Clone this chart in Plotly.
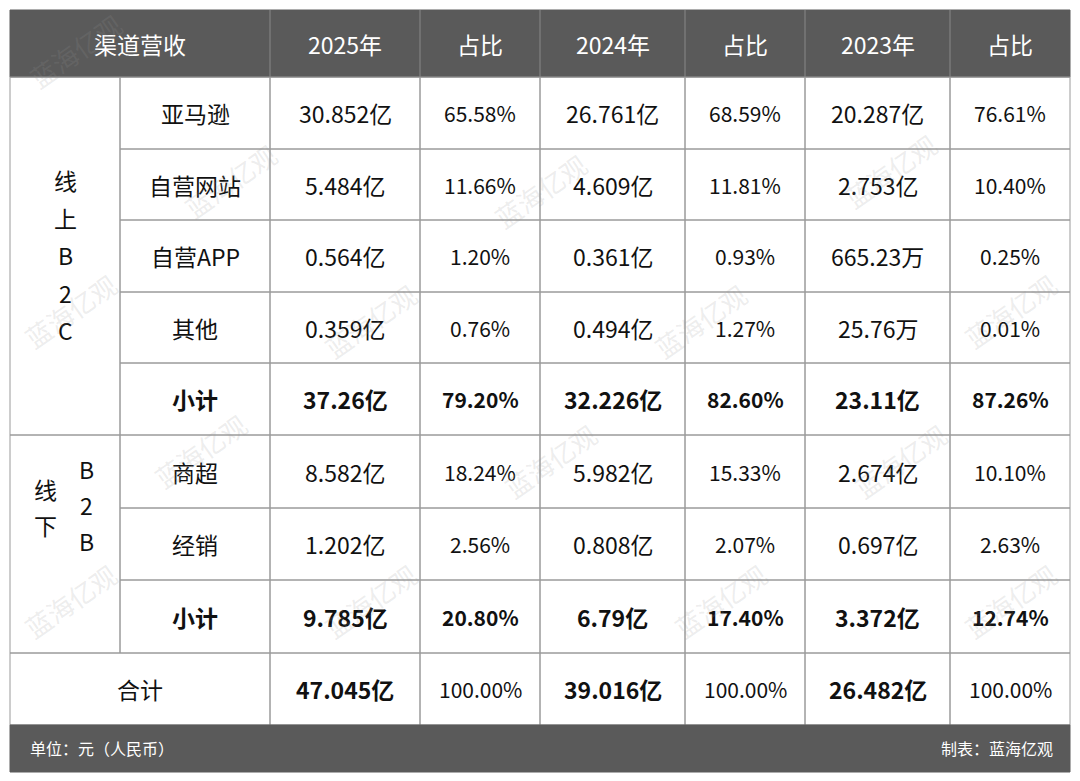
import plotly.graph_objects as go

W, H = 1080, 781
PAGE_OFFSET = 8  # browser body margin

headers = ["渠道营收", "2025年", "占比", "2024年", "占比", "2023年", "占比"]
channels = ["亚马逊", "自营网站", "自营APP", "其他", "小计", "商超", "经销", "小计"]
rev_2025 = ["30.852亿", "5.484亿", "0.564亿", "0.359亿", "37.26亿", "8.582亿", "1.202亿", "9.785亿"]
pct_2025 = ["65.58%", "11.66%", "1.20%", "0.76%", "79.20%", "18.24%", "2.56%", "20.80%"]
rev_2024 = ["26.761亿", "4.609亿", "0.361亿", "0.494亿", "32.226亿", "5.982亿", "0.808亿", "6.79亿"]
pct_2024 = ["68.59%", "11.81%", "0.93%", "1.27%", "82.60%", "15.33%", "2.07%", "17.40%"]
rev_2023 = ["20.287亿", "2.753亿", "665.23万", "25.76万", "23.11亿", "2.674亿", "0.697亿", "3.372亿"]
pct_2023 = ["76.61%", "10.40%", "0.25%", "0.01%", "87.26%", "10.10%", "2.63%", "12.74%"]
total_row = ["合计", "47.045亿", "100.00%", "39.016亿", "100.00%", "26.482亿", "100.00%"]
bold_rows = {4, 7}

col_edges = [10, 120, 270, 420, 540, 685, 805, 950, 1070]
row_edges = [10, 77, 149, 220, 292, 363, 435, 508, 580, 653, 725]
FOOT_BOTTOM = 772
DARK = "#5a5a5a"
LINE = "#9a9a9a"
FONT = "Noto Sans CJK SC"

fig = go.Figure()
shapes, ann = [], []


def rect(x0, y0, x1, y1, fill=None, line=LINE, w=1):
    shapes.append(dict(type="rect", xref="x", yref="y", x0=x0, y0=y0, x1=x1, y1=y1,
                       fillcolor=fill or "rgba(0,0,0,0)", line=dict(color=line, width=w),
                       layer="below"))


def text(x, y, s, size=23, color="#111", bold=False, **kw):
    ann.append(dict(x=x, y=y, xref="x", yref="y", text=f"<b>{s}</b>" if bold else s,
                    showarrow=False, font=dict(family=FONT, size=size, color=color), **kw))


# header
rect(col_edges[0], row_edges[0], col_edges[-1], row_edges[1], fill=DARK, line=DARK)
hx = [(col_edges[0] + col_edges[2]) / 2] + [(col_edges[i] + col_edges[i + 1]) / 2 for i in range(2, 8)]
for x, h in zip(hx, headers):
    text(x, (row_edges[0] + row_edges[1]) / 2, h, color="white")
for i in range(2, 8):
    shapes.append(dict(type="line", xref="x", yref="y", x0=col_edges[i], x1=col_edges[i],
                       y0=row_edges[0], y1=row_edges[1], line=dict(color="#888", width=1)))

# body cells
cols = [channels, rev_2025, pct_2025, rev_2024, pct_2024, rev_2023, pct_2023]
for r in range(8):
    y0, y1 = row_edges[r + 1], row_edges[r + 2]
    for c in range(7):
        x0, x1 = col_edges[c + 1], col_edges[c + 2]
        rect(x0, y0, x1, y1)
        size = 21 if c in (2, 4, 6) else 23
        text((x0 + x1) / 2, (y0 + y1) / 2, cols[c][r], size=size, bold=r in bold_rows)

# group label cells
rect(col_edges[0], row_edges[1], col_edges[1], row_edges[6])
rect(col_edges[0], row_edges[6], col_edges[1], row_edges[9])
for k, ch in enumerate("线上B2C"):
    text(65, 180 + k * 37.5, ch)
for k, ch in enumerate("线下"):
    text(45, 489 + k * 36, ch)
for k, ch in enumerate("B2B"):
    text(86, 469 + k * 36, ch)

# total row
y0, y1 = row_edges[9], row_edges[10]
rect(col_edges[0], y0, col_edges[2], y1)
text((col_edges[0] + col_edges[2]) / 2, (y0 + y1) / 2, total_row[0])
for c in range(1, 7):
    x0, x1 = col_edges[c + 1], col_edges[c + 2]
    rect(x0, y0, x1, y1)
    text((x0 + x1) / 2, (y0 + y1) / 2, total_row[c], size=21 if c % 2 == 0 else 23, bold=c % 2 == 1)

# footer
rect(col_edges[0], row_edges[10], col_edges[-1], FOOT_BOTTOM, fill=DARK, line=DARK)
text(28, 748, "单位：元（人民币）", size=16, color="white", xanchor="left")
text(1055, 748, "制表：蓝海亿观", size=16, color="white", xanchor="right")

# faint watermarks
for wx, wy in [(75, 50), (230, 180), (540, 190), (890, 170), (70, 310), (370, 320), (700, 320),
               (1010, 310), (200, 450), (550, 460), (900, 460), (70, 600), (370, 600), (720, 600),
               (1010, 600)]:
    text(wx, wy, "蓝海亿观", size=26, color="rgba(150,150,150,0.18)", textangle=-35)

fig.add_trace(go.Scatter(x=[0, W], y=[0, H], mode="markers", marker=dict(opacity=0),
                         hoverinfo="skip", showlegend=False))
fig.update_layout(
    width=W, height=H, margin=dict(l=0, r=0, t=0, b=0),
    paper_bgcolor="white", plot_bgcolor="white",
    xaxis=dict(range=[PAGE_OFFSET, W + PAGE_OFFSET], visible=False, fixedrange=True),
    yaxis=dict(range=[H + PAGE_OFFSET, PAGE_OFFSET], visible=False, fixedrange=True),
    shapes=shapes, annotations=ann,
)
fig.write_html("out.html")
